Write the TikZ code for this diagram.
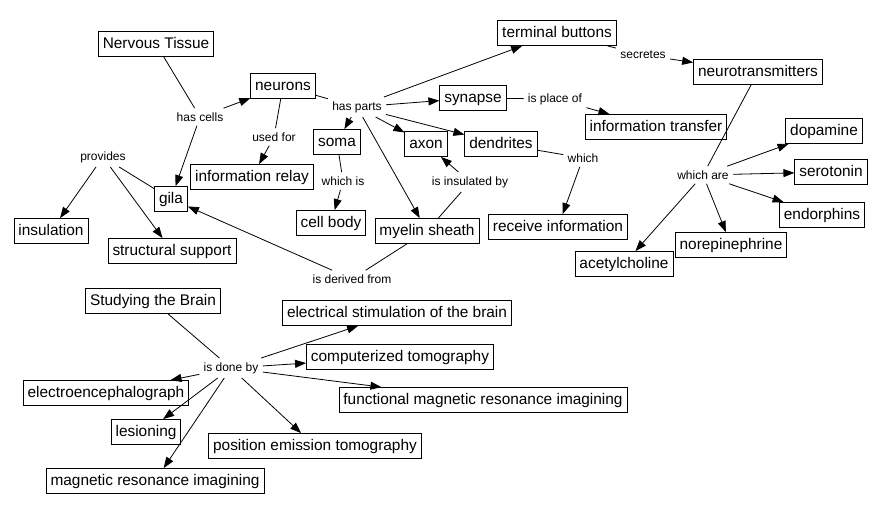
\documentclass[tikz,border=0pt]{standalone}
\usepackage{fontspec}
\setmainfont{Liberation Sans}
\usetikzlibrary{arrows.meta}
\tikzset{
  concept/.style={draw, line width=0.8pt, font=\fontsize{15.4}{18}\selectfont,
    inner xsep=4.5pt, inner ysep=5.5pt, text height=11pt, text depth=3pt},
  linkword/.style={font=\fontsize{12}{14}\selectfont, inner sep=4pt},
  arr/.style={-{Triangle[length=11pt,width=8pt]}}
}
\begin{document}
\begin{tikzpicture}[x=1pt, y=-1pt, line width=0.8pt]
  \useasboundingbox (0,0) rectangle (883,514);
  % concepts, top part
  \node[concept] (tissue) at (156,44) {Nervous Tissue};
  \node[concept] (neurons) at (283,86) {neurons};
  \node[concept] (gila) at (171,199) {gila};
  \node[concept] (insulation) at (51,231) {insulation};
  \node[concept] (support) at (172,251) {structural support};
  \node[concept] (relay) at (252,177) {information relay};
  \node[concept] (soma) at (337,142) {soma};
  \node[concept] (cellbody) at (331,223) {cell body};
  \node[concept] (axon) at (426,144) {axon};
  \node[concept] (myelin) at (427,231) {myelin sheath};
  \node[concept] (dendrites) at (501,144) {dendrites};
  \node[concept] (synapse) at (473,98) {synapse};
  \node[concept] (terminal) at (557,33) {terminal buttons};
  \node[concept] (transmitters) at (758,72) {neurotransmitters};
  \node[concept] (transfer) at (656,127) {information transfer};
  \node[concept] (receive) at (558,227) {receive information};
  \node[concept] (dopamine) at (824,131) {dopamine};
  \node[concept] (serotonin) at (831,172) {serotonin};
  \node[concept] (endorphins) at (822,215) {endorphins};
  \node[concept] (norepi) at (731,245) {norepinephrine};
  \node[concept] (acetyl) at (624,264) {acetylcholine};
  % concepts, bottom part
  \node[concept] (brain) at (153,301) {Studying the Brain};
  \node[concept] (stimulation) at (397,313) {electrical stimulation of the brain};
  \node[concept] (ct) at (400,357) {computerized tomography};
  \node[concept] (fmri) at (483,400) {functional magnetic resonance imagining};
  \node[concept] (eeg) at (106,393) {electroencephalograph};
  \node[concept] (lesion) at (146,432) {lesioning};
  \node[concept] (pet) at (315,446) {position emission tomography};
  \node[concept] (mri) at (155,481) {magnetic resonance imagining};
  % linking words
  \node[linkword] (hascells) at (200,117) {has cells};
  \node[linkword] (provides) at (103,157) {provides};
  \node[linkword] (usedfor) at (274,137) {used for};
  \node[linkword] (hasparts) at (357,107) {has parts};
  \node[linkword] (whichis) at (343,181) {which is};
  \node[linkword] (insulatedby) at (470,182) {is insulated by};
  \node[linkword] (derived) at (352,279) {is derived from};
  \node[linkword] (placeof) at (555,99) {is place of};
  \node[linkword] (secretes) at (643,55) {secretes};
  \node[linkword] (which) at (583,158) {which};
  \node[linkword] (whichare) at (703,175) {which are};
  \node[linkword] (doneby) at (231,368) {is done by};
  % connectors
  \draw (tissue) -- (hascells);
  \draw[arr] (hascells) -- (neurons);
  \draw[arr] (hascells) -- (gila);
  \draw (gila) -- (provides);
  \draw[arr] (provides) -- (insulation);
  \draw[arr] (provides) -- (support);
  \draw (neurons) -- (usedfor);
  \draw[arr] (usedfor) -- (relay);
  \draw (neurons) -- (hasparts);
  \foreach \part in {terminal,synapse,soma,axon,dendrites,myelin}
    \draw[arr] (hasparts) -- (\part);
  \draw (soma) -- (whichis);
  \draw[arr] (whichis) -- (cellbody);
  \draw (myelin) -- (insulatedby);
  \draw[arr] (insulatedby) -- (axon);
  \draw (myelin) -- (derived);
  \draw[arr] (derived) -- (gila);
  \draw (synapse) -- (placeof);
  \draw[arr] (placeof) -- (transfer);
  \draw (terminal) -- (secretes);
  \draw[arr] (secretes) -- (transmitters);
  \draw (dendrites) -- (which);
  \draw[arr] (which) -- (receive);
  \draw (transmitters) -- (whichare);
  \foreach \kind in {dopamine,serotonin,endorphins,norepi,acetyl}
    \draw[arr] (whichare) -- (\kind);
  \draw (brain) -- (doneby);
  \foreach \method in {stimulation,ct,fmri,eeg,lesion,pet,mri}
    \draw[arr] (doneby) -- (\method);
\end{tikzpicture}
\end{document}
